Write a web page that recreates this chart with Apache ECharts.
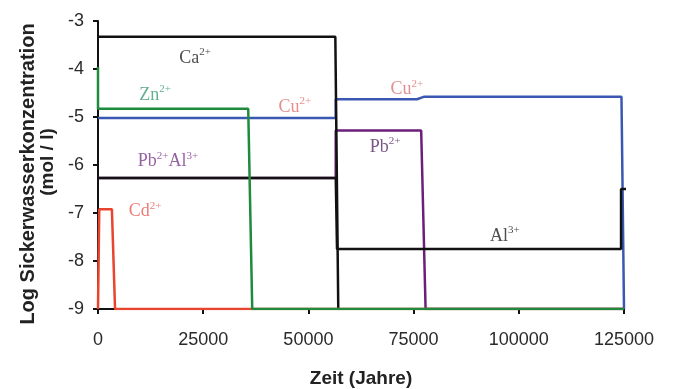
<!DOCTYPE html>
<html>
<head>
<meta charset="utf-8">
<script src="https://cdn.jsdelivr.net/npm/echarts@6/dist/echarts.min.js"></script>
<style>html,body{margin:0;padding:0;background:#fff}#c{width:674px;height:389px}</style>
</head>
<body>
<div id="c"></div>
<script>
// ---- data (time in years, log concentration) ----
var xTicks = [0, 25000, 50000, 75000, 100000, 125000];
var yTicks = [-9, -8, -7, -6, -5, -4, -3];

var caTime = [0, 56400, 57100];
var caLog  = [-3.33, -3.33, -9];

var alTime = [0, 56500, 56800, 124300, 124300, 125500];
var alLog  = [-6.27, -6.27, -7.75, -7.75, -6.5, -6.5];

var pbTime = [0, 56500, 56500, 76800, 77850, 125000];
var pbLog  = [-6.27, -6.27, -5.28, -5.28, -9, -9];

var cuTime = [0, 56500, 56500, 75800, 77400, 124400, 125000];
var cuLog  = [-5.02, -5.02, -4.63, -4.63, -4.58, -4.58, -9];

var cdTime = [0, 300, 3300, 4050, 125000];
var cdLog  = [-9, -6.92, -6.92, -9, -9];

var znTime = [0, 0, 35700, 36650, 125000];
var znLog  = [-3.96, -4.83, -4.83, -9, -9];

// annotation labels: [ion, charge, time, log, colour]
var labelIon    = ['Ca', 'Zn', 'Cu', 'Cu', 'Pb|Al', 'Cd', 'Pb', 'Al'];
var labelCharge = ['2+', '2+', '2+', '2+', '2+|3+', '2+', '2+', '3+'];
var labelTime   = [23050, 13550, 46800, 73400, 16650, 11170, 68200, 96700];
var labelLog    = [-3.75, -4.52, -4.77, -4.40, -5.90, -6.94, -5.60, -7.46];
var labelColor  = ['#222222', '#3f9a72', '#e07070', '#d87272', '#7a3a8a', '#e85a55', '#5a2a66', '#222222'];

function pairs(t, v) { return t.map(function (x, i) { return [x, v[i]]; }); }

function richText(ion, charge) {
  var ions = ion.split('|'), ch = charge.split('|');
  return ions.map(function (s, i) { return '{b|' + s + '}{s|' + ch[i] + '}'; }).join('');
}

var chart = echarts.init(document.getElementById('c'));

function lineSeries(name, t, v, color) {
  return {
    name: name, type: 'line', data: pairs(t, v), showSymbol: false, symbol: 'none',
    lineStyle: { color: color, width: 2.5 }, clip: true, animation: false, z: 2
  };
}

var labelData = labelTime.map(function (t, i) {
  return {
    value: [t, labelLog[i]],
    label: {
      show: true, position: 'inside',
      formatter: richText(labelIon[i], labelCharge[i]),
      rich: {
        b: { fontFamily: 'Liberation Serif', fontSize: 18, color: labelColor[i], lineHeight: 20, verticalAlign: 'bottom' },
        s: { fontFamily: 'Liberation Serif', fontSize: 11, color: labelColor[i], lineHeight: 20, verticalAlign: 'top' }
      }
    }
  };
});

chart.setOption({
  animation: false,
  backgroundColor: '#ffffff',
  grid: { left: 98, right: 50, top: 21, bottom: 80, containLabel: false },
  xAxis: {
    type: 'value', min: 0, max: 125000, interval: 25000,
    axisLine: { show: true, onZero: false, lineStyle: { color: '#111', width: 2 } },
    axisTick: { show: true, length: 5, lineStyle: { color: '#111', width: 2 } },
    axisLabel: { margin: 22, fontSize: 18, color: '#2a2a2a', fontFamily: 'Liberation Sans',
      formatter: function (v) { return String(v); } },
    splitLine: { show: false }
  },
  yAxis: {
    type: 'value', min: -9, max: -3, interval: 1,
    axisLine: { show: true, onZero: false, lineStyle: { color: '#111', width: 2 } },
    axisTick: { show: true, length: 5, lineStyle: { color: '#111', width: 2 } },
    axisLabel: { margin: 14, fontSize: 18, color: '#2a2a2a', fontFamily: 'Liberation Sans' },
    splitLine: { show: false }
  },
  graphic: [
    { type: 'text', x: 28, y: 174, rotation: Math.PI / 2,
      style: { text: 'Log Sickerwasserkonzentration', fontFamily: 'Liberation Sans', fontWeight: 'bold', fontSize: 20, fill: '#222', align: 'center', verticalAlign: 'middle' } },
    { type: 'text', x: 48, y: 162, rotation: Math.PI / 2,
      style: { text: '(mol / l)', fontFamily: 'Liberation Sans', fontWeight: 'bold', fontSize: 19, fill: '#222', align: 'center', verticalAlign: 'middle' } },
    { type: 'text', x: 361, y: 379,
      style: { text: 'Zeit (Jahre)', fontFamily: 'Liberation Sans', fontWeight: 'bold', fontSize: 19, fill: '#222', align: 'center', verticalAlign: 'middle' } }
  ],
  series: [
    lineSeries('Cu', cuTime, cuLog, '#3a58b2'),
    lineSeries('Pb', pbTime, pbLog, '#6b1f78'),
    lineSeries('Ca', caTime, caLog, '#111111'),
    lineSeries('Al', alTime, alLog, '#111111'),
    lineSeries('Cd', cdTime, cdLog, '#e8442e'),
    lineSeries('Zn', znTime, znLog, '#1f8a3c'),
    { type: 'scatter', data: labelData, symbolSize: 1, itemStyle: { color: 'rgba(0,0,0,0)' }, animation: false, z: 5, silent: true }
  ]
});
</script>
</body>
</html>
